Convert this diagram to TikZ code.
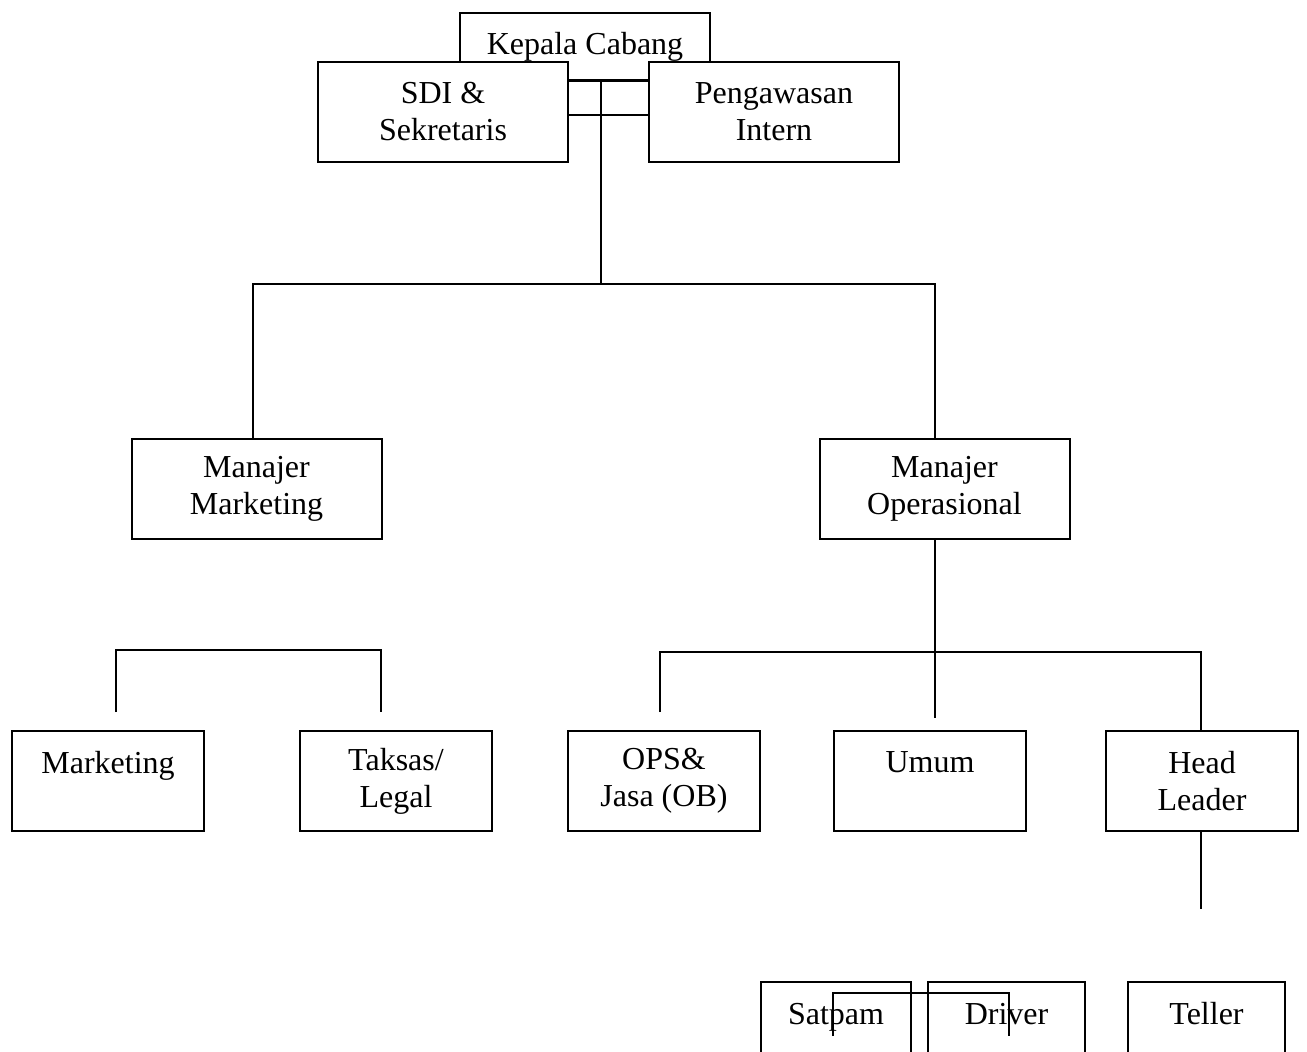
\documentclass[tikz,border=0pt]{standalone}
\usepackage{fontspec}
\setmainfont{Liberation Serif}
\usepackage{tikz}
\usetikzlibrary{positioning, calc}

\begin{document}
\begin{tikzpicture}[
		x=0.5pt, y=-0.5pt,
		font=\fontsize{16}{18.5}\selectfont,
		block/.style={rectangle, draw, fill=white, align=center, line width=1pt,
			inner sep=0pt, minimum height=50pt, minimum width=125pt},
		unit/.style={block, minimum width=96pt},
		staff/.style={block, minimum width=78.5pt},
		line/.style={line width=1pt}
		]
		\useasboundingbox (0,0) rectangle (1307,1051);
		
		% 1. Pimpinan cabang
		\node[block, minimum height=33.5pt] (kepala) at (585,46.5) {Kepala Cabang};
		\node[block] (sdi) at (443,112) {SDI \&\\Sekretaris};
		\node[block] (intern) at (774,112) {Pengawasan\\Intern};
		
		% 2. Manajer
		\node[block] (mmkt) at (256.5,488.5) {Manajer\\Marketing};
		\node[block] (mops) at (944.5,488.5) {Manajer\\Operasional};
		
		% 3. Bagian
		\node[unit] (mkt) at (108,781) {Marketing\\\mbox{}};
		\node[unit, right=47pt of mkt] (taksas) {Taksas/\\Legal};
		\node[unit] (ops) at (664,781) {OPS\&\\Jasa (OB)};
		\node[unit, right=36pt of ops] (umum) {Umum\\\mbox{}};
		\node[unit, right=39pt of umum] (head) {Head\\Leader};
		
		% 4. Staf
		\node[staff, minimum width=75pt] (satpam) at (836,1032) {Satpam\\\mbox{}};
		\node[staff, right=7.5pt of satpam] (driver) {Driver\\\mbox{}};
		\node[staff, right=20.5pt of driver] (teller) {Teller\\\mbox{}};
		
		% 5. Garis atas
		\draw[line] (sdi.east |- kepala.south) -- (intern.west |- kepala.south);
		\draw[line] ([yshift=-1.5pt]sdi.east) -- ([yshift=-1.5pt]intern.west);
		\draw[line] ([xshift=8pt]kepala.south) -- ++(0,203) coordinate (bar);
		\draw[line] ([xshift=-1.75pt]mmkt.north) |- (bar) -| ([xshift=-4.75pt]mops.north);
		
		% 6. Garis bawah
		\draw[line] ([xshift=4pt,yshift=9pt]mkt.north) -- ++(0,-62) -| ([xshift=-7.5pt,yshift=9pt]taksas.north);
		\draw[line] ([xshift=-4.75pt]mops.south) -- ++(0,178);
		\path ([xshift=-4.75pt]mops.south) ++(0,112) coordinate (ojoin);
		\draw[line] ([xshift=-2pt,yshift=9pt]ops.north) |- (ojoin) -| ([xshift=-0.75pt]head.north);
		\draw[line] ([xshift=-0.75pt]head.south) -- ++(0,77);
		\draw[line] ([xshift=-1.5pt,yshift=-27.5pt]satpam.north) -- ++(0,-43) -| ([xshift=1.25pt,yshift=-27.5pt]driver.north);
		
	\end{tikzpicture}
\end{document}
